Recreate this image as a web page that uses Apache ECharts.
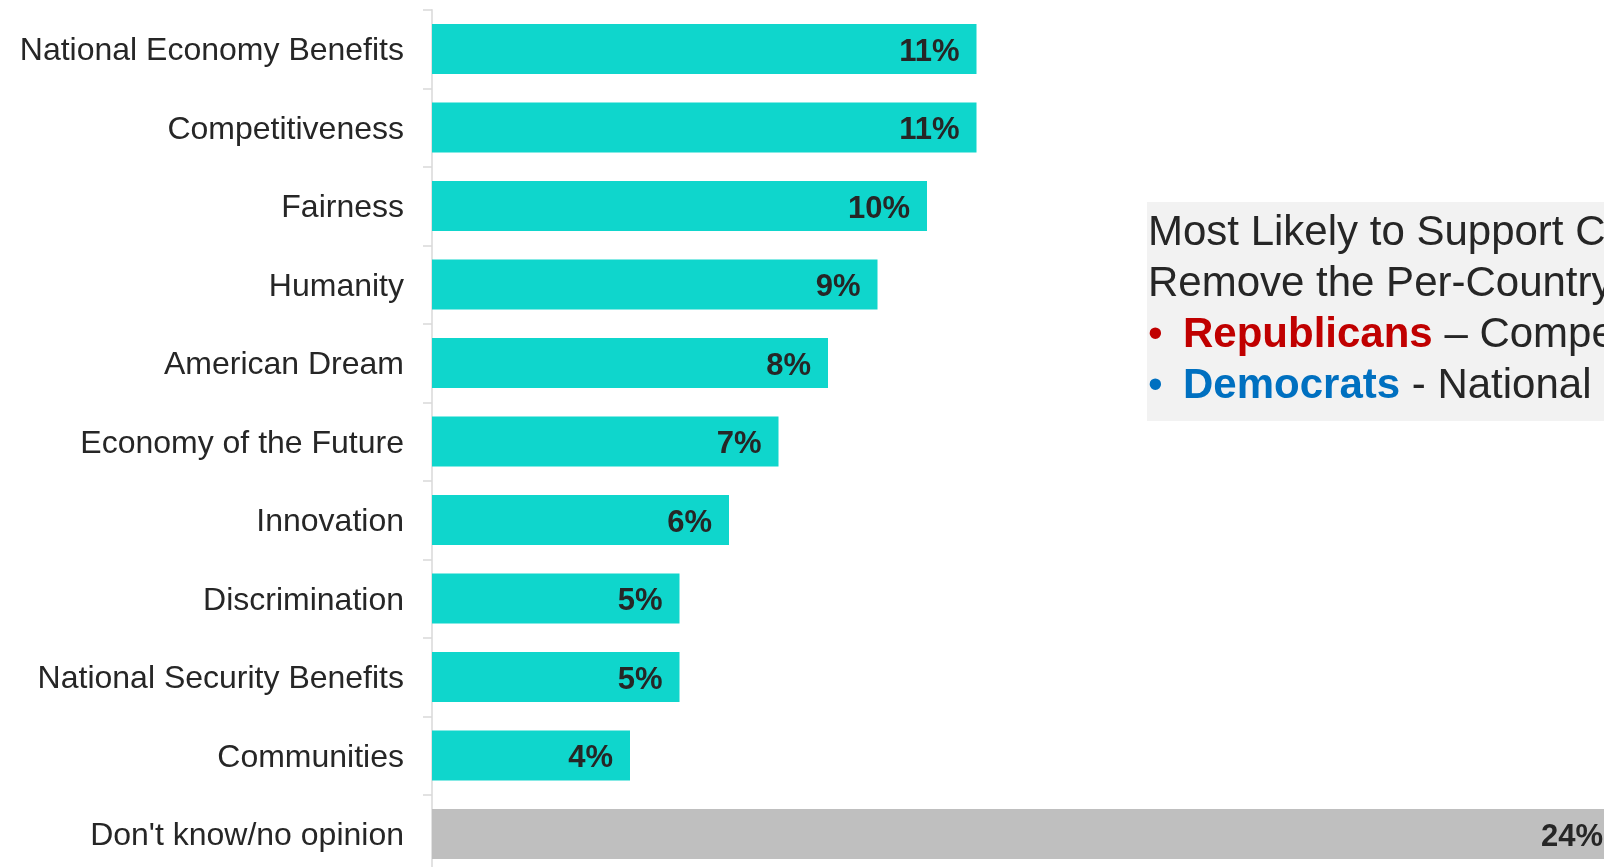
<!DOCTYPE html>
<html>
<head>
<meta charset="utf-8">
<title>Reasons for support</title>
<script src="https://cdn.jsdelivr.net/npm/echarts@6/dist/echarts.min.js"></script>
<style>
  html, body { margin: 0; padding: 0; background: #ffffff; }
  #chart { width: 1604px; height: 867px; }
</style>
</head>
<body>
<div id="chart"></div>
<script>
// Share of respondents citing each reason (%)
const categories = [
  'National Economy Benefits',
  'Competitiveness',
  'Fairness',
  'Humanity',
  'American Dream',
  'Economy of the Future',
  'Innovation',
  'Discrimination',
  'National Security Benefits',
  'Communities',
  "Don't know/no opinion"
];
const values = [11, 11, 10, 9, 8, 7, 6, 5, 5, 4, 24];
const noOpinionCategory = "Don't know/no opinion";

// Call-out text
const calloutLines = [
  'Most Likely to Support Congress Acting to',
  'Remove the Per-Country Cap:'
];
const republicanReason = 'Competitiveness';
const democratReason = 'National Economy Benefits';

const FONT = '"Liberation Sans", Arial, Helvetica, sans-serif';
const TEAL = '#0fd6cc';
const GREY = '#bfbfbf';
const TEXT = '#262626';
const AXIS = '#d9d9d9';

const chart = echarts.init(document.getElementById('chart'), null, { renderer: 'canvas' });

const barData = values.map((v, i) => ({
  value: v,
  itemStyle: { color: categories[i] === noOpinionCategory ? GREY : TEAL }
}));

const calloutText = [
  calloutLines[0],
  calloutLines[1],
  '{rdot|•}{rep|Republicans} – ' + republicanReason,
  '{bdot|•}{dem|Democrats} - ' + democratReason
].join('\n');

chart.setOption({
  animation: false,
  backgroundColor: '#ffffff',
  // plot area runs past the right and bottom edges of the canvas
  grid: {
    left: 432,
    top: 9.75,
    width: 1188,
    height: 863.5,
    outerBoundsMode: 'none'
  },
  xAxis: {
    type: 'value',
    min: 0,
    max: 24,
    show: false
  },
  yAxis: {
    type: 'category',
    data: categories,
    inverse: true,
    offset: 1,
    axisLine: { show: true, lineStyle: { color: AXIS, width: 1.5 } },
    axisTick: { show: true, length: 9, lineStyle: { color: AXIS, width: 1.5 } },
    axisLabel: {
      margin: 27,
      color: TEXT,
      fontSize: 32,
      fontFamily: FONT,
      formatter: (name) => '{cat|' + name + '}',
      rich: {
        cat: {
          color: TEXT,
          fontSize: 32,
          fontFamily: FONT,
          padding: [5, 0, 0, 0]
        }
      }
    },
    splitLine: { show: false }
  },
  series: [{
    type: 'bar',
    data: barData,
    barWidth: 50,
    clip: false,
    label: {
      show: true,
      position: 'insideRight',
      distance: 17,
      offset: [0, 3],
      formatter: '{c}%',
      color: TEXT,
      fontSize: 31,
      fontWeight: 'bold',
      fontFamily: FONT
    }
  }],
  graphic: [
    {
      type: 'rect',
      z: 0,
      shape: { x: 1147, y: 202, width: 520, height: 219 },
      style: { fill: '#f2f2f2' }
    },
    {
      type: 'text',
      z: 1,
      x: 1148,
      y: 208,
      style: {
        text: calloutText,
        fill: TEXT,
        font: '42px ' + FONT,
        lineHeight: 51,
        verticalAlign: 'top',
        align: 'left',
        rich: {
          rdot: { fill: '#c00000', fontSize: 42, fontFamily: FONT, width: 35, lineHeight: 51 },
          bdot: { fill: '#0070c0', fontSize: 42, fontFamily: FONT, width: 35, lineHeight: 51 },
          rep: { fill: '#c00000', fontSize: 42, fontWeight: 'bold', fontFamily: FONT, lineHeight: 51 },
          dem: { fill: '#0070c0', fontSize: 42, fontWeight: 'bold', fontFamily: FONT, lineHeight: 51 }
        }
      }
    }
  ]
});
</script>
</body>
</html>
